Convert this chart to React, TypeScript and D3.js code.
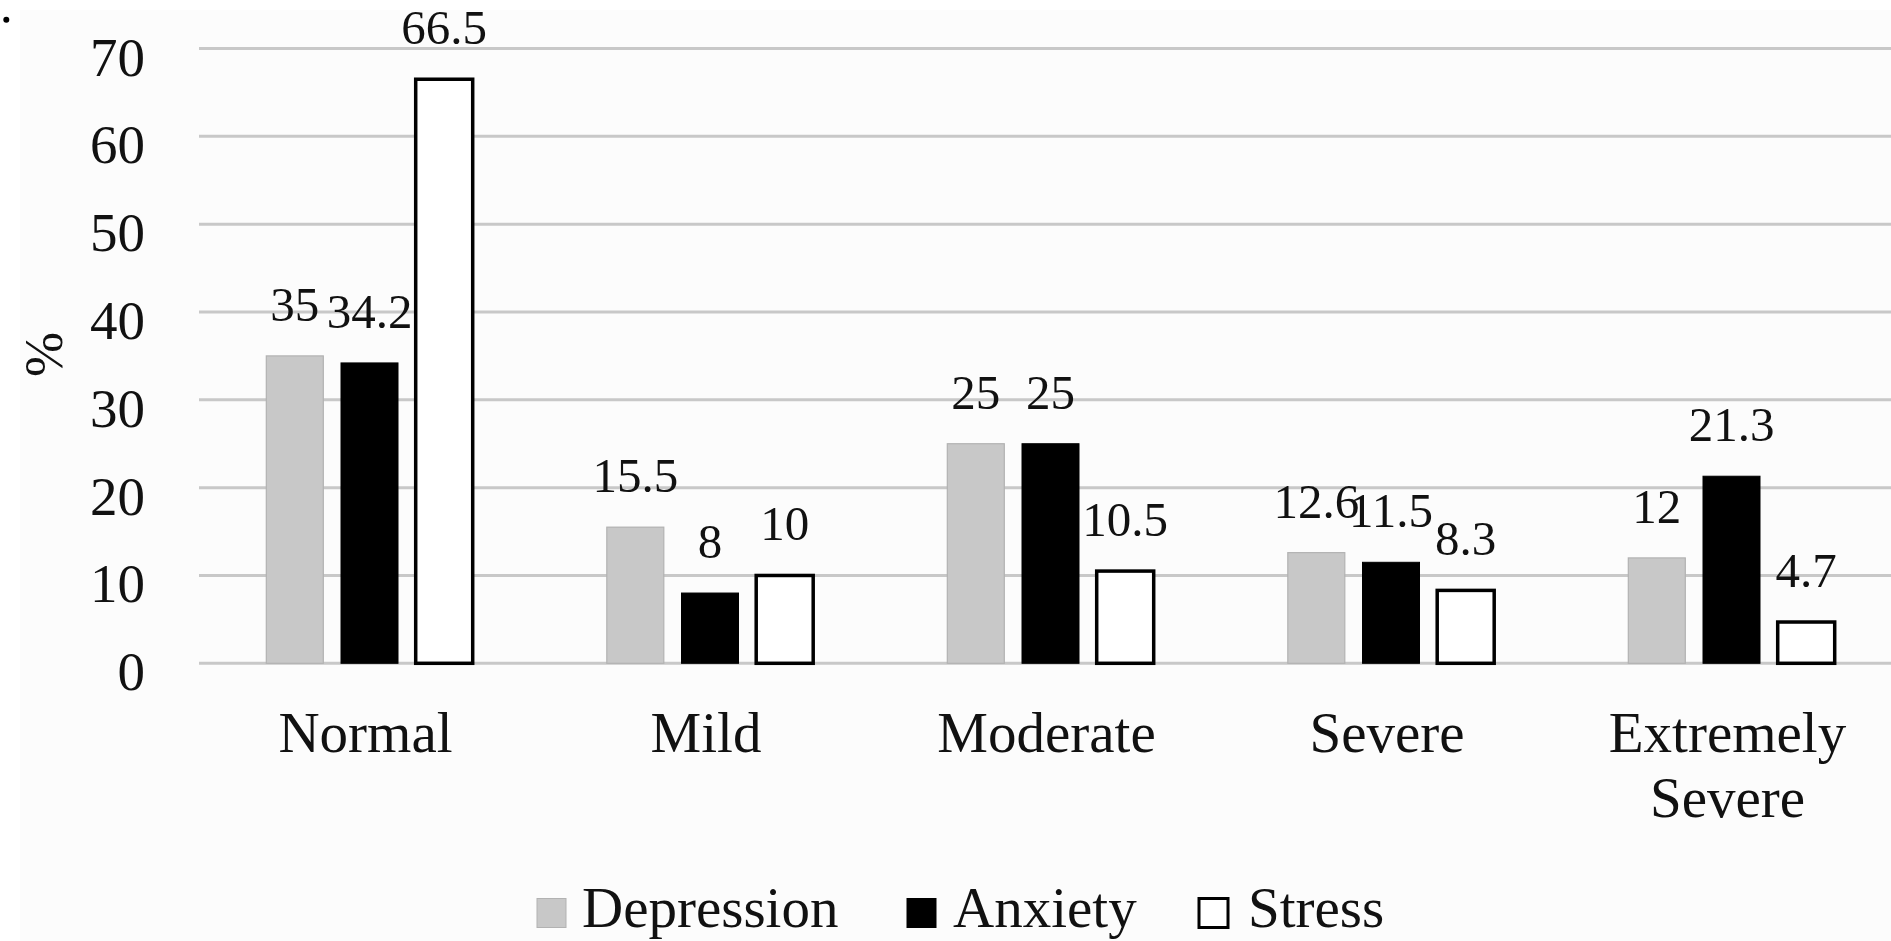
import React from "react";
import * as d3 from "d3";

const categories = ["Normal", "Mild", "Moderate", "Severe", "Extremely Severe"];
const categoryLines = [["Normal"], ["Mild"], ["Moderate"], ["Severe"], ["Extremely", "Severe"]];
const seriesNames = ["Depression", "Anxiety", "Stress"];
const depression = [35, 15.5, 25, 12.6, 12];
const anxiety = [34.2, 8, 25, 11.5, 21.3];
const stress = [66.5, 10, 10.5, 8.3, 4.7];
const yTicks = [0, 10, 20, 30, 40, 50, 60, 70];

const W = 1891;
const H = 941;
const FONT = "'Liberation Serif', 'Times New Roman', serif";
const TEXT = "#111";

const styles: Record<string, { fill: string; stroke: string; sw: number }> = {
  Depression: { fill: "#c8c8c8", stroke: "#b2b2b2", sw: 1.2 },
  Anxiety: { fill: "#000000", stroke: "#000000", sw: 1 },
  Stress: { fill: "#ffffff", stroke: "#000000", sw: 3.5 },
};

export default function App() {
  const values = [depression, anxiety, stress];
  const y = d3.scaleLinear().domain([0, 70]).range([663.3, 48.5]);
  const x0 = d3.scaleBand<string>().domain(categories).range([199.25, 1901.75]).padding(0);
  const x1 = d3
    .scaleBand<string>()
    .domain(seriesNames)
    .range([-112.05, 112.05])
    .paddingInner(0.237)
    .paddingOuter(0.1185);
  const bw = x1.bandwidth();
  const gridLeft = 199;
  const gridRight = W;

  const legendItems = [
    { name: "Depression", sq: 537, tx: 582 },
    { name: "Anxiety", sq: 907, tx: 953 },
    { name: "Stress", sq: 1199, tx: 1248 },
  ];

  return (
    <svg
      width={W}
      height={H}
      style={{ position: "absolute", left: 0, top: 0, background: "#ffffff" }}
      fontFamily={FONT}
    >
      <rect x={20} y={10} width={W - 20} height={H - 10} fill="#fcfcfc" />
      <circle cx={6.3} cy={19.7} r={3} fill="#000" />

      {yTicks.map((t) => (
        <g key={t}>
          <line
            x1={gridLeft}
            x2={gridRight}
            y1={y(t)}
            y2={y(t)}
            stroke="#c8c8c8"
            strokeWidth={3}
          />
          <text x={145} y={y(t) + 27} textAnchor="end" fontSize={55} fill={TEXT}>
            {t}
          </text>
        </g>
      ))}

      <text
        transform={`translate(62,354.5) rotate(-90)`}
        textAnchor="middle"
        fontSize={54}
        fill={TEXT}
      >
        %
      </text>

      {categories.map((c, i) => (
        <g key={c}>
          {seriesNames.map((s, j) => {
            const v = values[j][i];
            const cx = (x0(c) as number) + x0.bandwidth() / 2 + (x1(s) as number) + bw / 2;
            const st = styles[s];
            return (
              <g key={s}>
                <rect
                  x={cx - bw / 2}
                  y={y(v)}
                  width={bw}
                  height={y(0) - y(v)}
                  fill={st.fill}
                  stroke={st.stroke}
                  strokeWidth={st.sw}
                />
                <text x={cx} y={y(v) - 35} textAnchor="middle" fontSize={49} fill={TEXT}>
                  {v}
                </text>
              </g>
            );
          })}
          <text
            x={(x0(c) as number) + x0.bandwidth() / 2 - 4}
            y={752}
            textAnchor="middle"
            fontSize={57}
            fill={TEXT}
          >
            {categoryLines[i].map((ln, k) => (
              <tspan key={k} x={(x0(c) as number) + x0.bandwidth() / 2 - 4} dy={k === 0 ? 0 : 65}>
                {ln}
              </tspan>
            ))}
          </text>
        </g>
      ))}

      {legendItems.map((it) => {
        const st = styles[it.name];
        return (
          <g key={it.name}>
            <rect
              x={it.sq}
              y={898.5}
              width={29}
              height={29}
              fill={st.fill}
              stroke={st.stroke}
              strokeWidth={it.name === "Stress" ? 3 : 1}
            />
            <text x={it.tx} y={927} fontSize={57} fill={TEXT}>
              {it.name}
            </text>
          </g>
        );
      })}
    </svg>
  );
}
